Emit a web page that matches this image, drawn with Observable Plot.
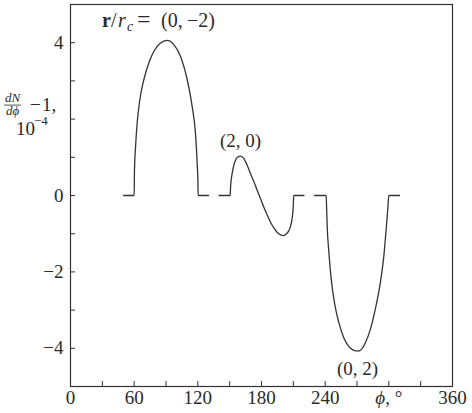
<!DOCTYPE html>
<html><head><meta charset="utf-8">
<script src="https://cdn.jsdelivr.net/npm/d3@7"></script>
<script src="https://cdn.jsdelivr.net/npm/@observablehq/plot@0.6"></script>
<style>body{margin:0;background:#fff}</style>
</head><body><div id="chart"></div>
<script>
// ---- data ----
const curve1X = [50, 60, 60.3, 61.3, 62.8, 65.3, 69.1, 73.8, 78.5, 84.8, 91, 97.4, 103.7, 110, 114.7, 117.8, 119.4, 120.1, 120.3, 130];
const curve1Y = [0, 0, 0.66, 1.27, 1.89, 2.5, 3.03, 3.47, 3.77, 3.99, 4.06, 3.95, 3.64, 3.03, 2.32, 1.62, 0.83, 0.35, 0, 0];

const curve2X = [140, 150.5, 150.8, 151.5, 152.5, 153.9, 155.5, 157.3, 160.2, 163.3, 166.5, 169.7, 173, 176, 179.2, 182.2, 185.4, 188.5, 191.7, 194.8, 198, 201, 203.5, 205.8, 207.6, 209, 209.9, 210.4, 220];
const curve2Y = [0, 0, 0.2, 0.42, 0.6, 0.79, 0.92, 1.0, 1.03, 0.97, 0.79, 0.57, 0.35, 0.13, -0.09, -0.31, -0.51, -0.7, -0.85, -0.97, -1.03, -1.05, -1.0, -0.92, -0.78, -0.57, -0.3, 0, 0];

const curve3X = [230, 241, 241.3, 241.9, 243.5, 245.7, 248.8, 252.9, 257.6, 262.3, 266, 268.6, 271, 273.3, 277.8, 282.5, 287.2, 292, 295.3, 297.5, 299, 300, 310];
const curve3Y = [0, 0, -0.26, -0.79, -1.49, -2.19, -2.81, -3.33, -3.73, -3.95, -4.04, -4.07, -4.07, -4.05, -3.86, -3.51, -2.98, -2.28, -1.58, -0.88, -0.35, 0, 0];

const xTicks = [0, 30, 60, 90, 120, 150, 180, 210, 240, 270, 300, 330, 360];
const xLabelTicks = [0, 60, 120, 180, 240, 300, 360];
const xLabelTexts = ["0", "60", "120", "180", "240", "ϕ, °", "360"];
const yTicks = [-4, -3, -2, -1, 0, 1, 2, 3, 4];
const yLabelTicks = [-4, -2, 0, 4];
const yLabelTexts = ["−4", "−2", "0", "4"];

const annX = [160.2, 270.5];
const annY = [1.42, -4.55];
const annText = ["(2, 0)", "(0, 2)"];
const titleX = 30.2;   // left edge of the series title, in data units
const titleY = 4.39;   // baseline of the series title, in data units

// ---- build ----
const toPts = (xs, ys) => xs.map((x, i) => ({x, y: ys[i]}));
const curves = [toPts(curve1X, curve1Y), toPts(curve2X, curve2Y), toPts(curve3X, curve3Y)];
const anns = annX.map((x, i) => ({x, y: annY[i], t: annText[i]}));
const FONT = "'Liberation Serif', 'DejaVu Serif', serif";
const INK = "#2a2a2a";

const chart = Plot.plot({
  width: 472, height: 413,
  marginLeft: 70, marginRight: 20, marginTop: 4, marginBottom: 27,
  x: {domain: [0, 360]},
  y: {domain: [-5, 5]},
  style: {fontFamily: FONT, fontSize: "19px", color: INK, background: "#fff"},
  marks: [
    Plot.frame({stroke: "#333", strokeWidth: 1.2}),
    Plot.axisX(xTicks, {tickSize: 5, dy: -5, fill: "none", stroke: "#333", label: null}),
    Plot.axisX(xLabelTicks, {tickSize: 0, tickPadding: 4, label: null, fill: INK,
      tickFormat: d => xLabelTexts[xLabelTicks.indexOf(d)]}),
    Plot.axisY(yTicks, {tickSize: 5, dx: 5, fill: "none", stroke: "#333", label: null}),
    Plot.axisY(yLabelTicks, {tickSize: 0, tickPadding: 7, label: null, fill: INK,
      tickFormat: d => yLabelTexts[yLabelTicks.indexOf(d)]}),
    ...curves.map(c => Plot.line(c, {x: "x", y: "y", stroke: "#333", strokeWidth: 1.3, curve: "monotone-x"})),
    Plot.text(anns, {x: "x", y: "y", text: "t", fontSize: 19, fill: INK})
  ]
});
document.getElementById("chart").appendChild(chart);

const sx = chart.scale("x"), sy = chart.scale("y");
const svg = d3.select(chart);

// italic phi in the x tick label
svg.selectAll("text").each(function() {
  if (this.textContent === "ϕ, °") {
    const el = d3.select(this);
    el.text("");
    el.append("tspan").attr("font-style", "italic").text("ϕ");
    el.append("tspan").text(", °");
  }
});

// helper for left-anchored text pieces
function piece(parent, x, y, str, size, opts = {}) {
  const e = parent.append("text").attr("x", x).attr("y", y)
    .attr("text-anchor", opts.anchor || "start")
    .attr("font-family", FONT).attr("font-size", size).attr("fill", INK);
  if (opts.italic) e.attr("font-style", "italic");
  if (opts.bold) e.attr("font-weight", "bold");
  e.text(str);
  return e;
}

// series title  r/r_c = (0, −2)
const x0 = sx.apply(titleX), yb = sy.apply(titleY);
const tg = svg.append("g");
piece(tg, x0, yb, "r", 20, {bold: true});
piece(tg, x0 + 9, yb, "/", 20);
piece(tg, x0 + 16, yb, "r", 20, {italic: true});
piece(tg, x0 + 25, yb + 4, "c", 14, {italic: true});
piece(tg, x0 + 35, yb, "=", 24);
piece(tg, x0 + 59, yb, "(0,", 20);
piece(tg, x0 + 85, yb, "−2)", 20);

// y-axis label: dN/dϕ − 1, 10^-4
const yc = sy.apply(2);
const g = svg.append("g");
piece(g, 12.5, yc - 17, "dN", 13, {italic: true, anchor: "middle"});
g.append("line").attr("x1", 4).attr("x2", 21).attr("y1", yc - 13.5).attr("y2", yc - 13.5)
  .attr("stroke", INK).attr("stroke-width", 0.8);
piece(g, 12.5, yc - 3.5, "dϕ", 13, {italic: true, anchor: "middle"});
piece(g, 30, yc - 8, "−", 19);
piece(g, 42, yc - 8, "1,", 19);
piece(g, 16, yc + 16, "10", 19);
piece(g, 34, yc + 6, "−4", 13);
</script>
</body></html>
